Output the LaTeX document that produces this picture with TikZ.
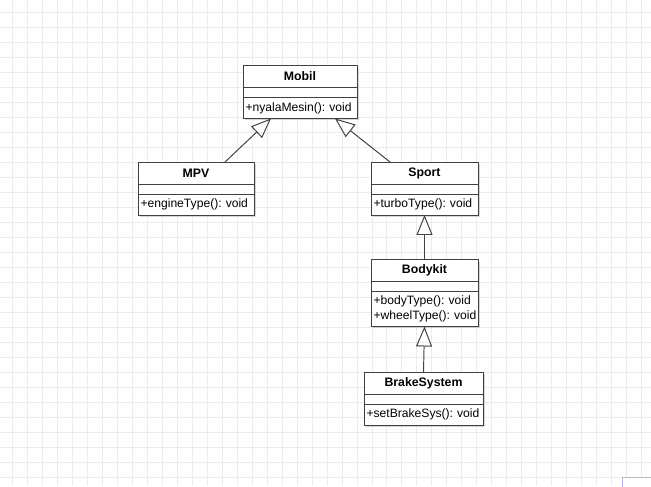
\documentclass[tikz,border=0pt]{standalone}
\usepackage{fontspec}
\setmainfont{Liberation Sans}
\usetikzlibrary{positioning,arrows.meta,shadows}

\begin{document}
\begin{tikzpicture}[x=0.02cm,y=-0.02cm,
  box/.style={draw=black!75,fill=white,line width=0.55pt,inner xsep=0.05cm,inner ysep=0.03cm,outer sep=0pt,
    drop shadow={shadow xshift=0.04cm,shadow yshift=-0.04cm,fill=black!35,opacity=0.45}},
  clsname/.style={box,minimum height=0.44cm,font=\fontsize{7}{8.2}\selectfont\bfseries},
  clsattr/.style={box,minimum height=0.2cm},
  clsops/.style={box,minimum height=0.42cm,align=left,font=\fontsize{6.9}{8.3}\selectfont},
  inherit/.style={draw=black!75,line width=0.55pt,-{Triangle[open,length=0.4cm,width=0.32cm]}}]
\useasboundingbox[fill=white] (0,0) rectangle (651,486);
\draw[gray!15,line width=0.5pt,shift={(12,12.5)},step=0.3cm] (-12,-12.5) grid (639,473.5);
\draw[blue!30,fill=white,line width=0.8pt] (622.5,477.5) rectangle (670,500);

\node[clsname,minimum width=2.28cm] (mobil) at (300,76.5) {Mobil};
\node[clsattr,minimum width=2.28cm,below=0pt of mobil] (mobilattr) {};
\node[clsops,text width=2.18cm,below=0pt of mobilattr] (mobilops) {+nyalaMesin():~void};

\node[clsname,minimum width=2.32cm] (mpv) at (196,173) {MPV};
\node[clsattr,minimum width=2.32cm,below=0pt of mpv] (mpvattr) {};
\node[clsops,text width=2.22cm,below=0pt of mpvattr] (mpvops) {+engineType():~void};

\node[clsname,minimum width=2.14cm] (sport) at (424.5,173) {Sport};
\node[clsattr,minimum width=2.14cm,below=0pt of sport] (sportattr) {};
\node[clsops,text width=2.04cm,below=0pt of sportattr] (sportops) {+turboType():~void};

\node[clsname,minimum width=2.14cm] (bodykit) at (424.5,270.5) {Bodykit};
\node[clsattr,minimum width=2.14cm,below=0pt of bodykit] (bodykitattr) {};
\node[clsops,text width=2.04cm,minimum height=0.7cm,below=0pt of bodykitattr] (bodykitops) {+bodyType():~void\\+wheelType():~void};

\node[clsname,minimum width=2.38cm] (brake) at (423.5,383) {BrakeSystem};
\node[clsattr,minimum width=2.38cm,below=0pt of brake] (brakeattr) {};
\node[clsops,text width=2.28cm,below=0pt of brakeattr] (brakeops) {+setBrakeSys():~void};

\draw[inherit] ([xshift=0.58cm]mpv.north) -- ([xshift=-0.58cm]mobilops.south);
\draw[inherit] ([xshift=-0.69cm]sport.north) -- ([xshift=0.7cm]mobilops.south);
\draw[inherit] (bodykit.north) -- (sportops.south);
\draw[inherit] (brake.north) -- (bodykitops.south);
\end{tikzpicture}
\end{document}
